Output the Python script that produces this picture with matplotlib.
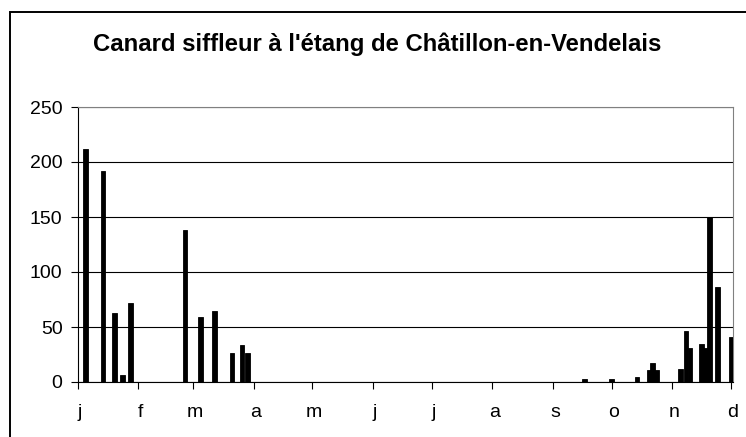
import pandas as pd
import matplotlib.pyplot as plt
import matplotlib.transforms as mtransforms
from matplotlib.patches import Rectangle

plt.rcParams['font.family'] = ['Liberation Sans', 'DejaVu Sans']

# dates des comptages et effectifs
dates = ['01-05', '01-14', '01-20', '01-24', '01-28', '02-25',
         '03-05', '03-12', '03-21', '03-26', '03-29',
         '09-17', '10-01', '10-14', '10-20', '10-22', '10-24',
         '11-05', '11-08', '11-10', '11-16', '11-18', '11-20', '11-24', '12-01']
effectifs = [212, 192, 63, 6, 72, 138,
             59, 65, 26, 34, 26,
             3, 3, 5, 11, 17, 11,
             12, 46, 31, 35, 31, 150, 86, 41]

mois = ['j', 'f', 'm', 'a', 'm', 'j', 'j', 'a', 's', 'o', 'n', 'd']

jours = pd.to_datetime(['2010-' + d for d in dates]).dayofyear - 1
debut_mois = pd.date_range('2010-01-01', periods=12, freq='MS').dayofyear - 1

fig = plt.figure(figsize=(7.46, 4.37), dpi=100)
ax = fig.add_axes([77.5 / 746, 55 / 437, 655.5 / 746, 275 / 437])

ax.bar(jours, effectifs, width=2.4, color='black', edgecolor='black',
       linewidth=0.6, zorder=3)

ax.set_xlim(0, 335)
ax.set_ylim(0, 250)
ax.set_yticks(range(0, 251, 50))
ax.set_xticks(debut_mois)
ax.set_xticklabels(mois)
ax.yaxis.grid(True, color='black', linewidth=0.8)
ax.set_axisbelow(True)

for s in ['top', 'right']:
    ax.spines[s].set_color('#808080')
ax.spines['left'].set_color('black')
ax.spines['bottom'].set_color('black')
ax.tick_params(axis='both', direction='out', length=5, width=0.8, labelsize=14)
ax.tick_params(axis='x', pad=10.5)
ax.tick_params(axis='y', pad=5.8)

# les etiquettes des mois sont un peu decalees a droite
decalage = mtransforms.ScaledTranslation(2 / 100, 0, fig.dpi_scale_trans)
for lab in ax.get_xticklabels():
    lab.set_transform(lab.get_transform() + decalage)

fig.text(377.5 / 746, 1 - 44 / 437, "Canard siffleur à l'étang de Châtillon-en-Vendelais",
         ha='center', va='center', fontsize=17.2, fontweight='bold')

# cadre du graphique
fig.patches.append(Rectangle((10 / 746, -0.1), 1.0, 1.1 - 12 / 437,
                             transform=fig.transFigure, fill=False,
                             edgecolor='black', linewidth=1.4))

fig.savefig('out.png', dpi=100)
